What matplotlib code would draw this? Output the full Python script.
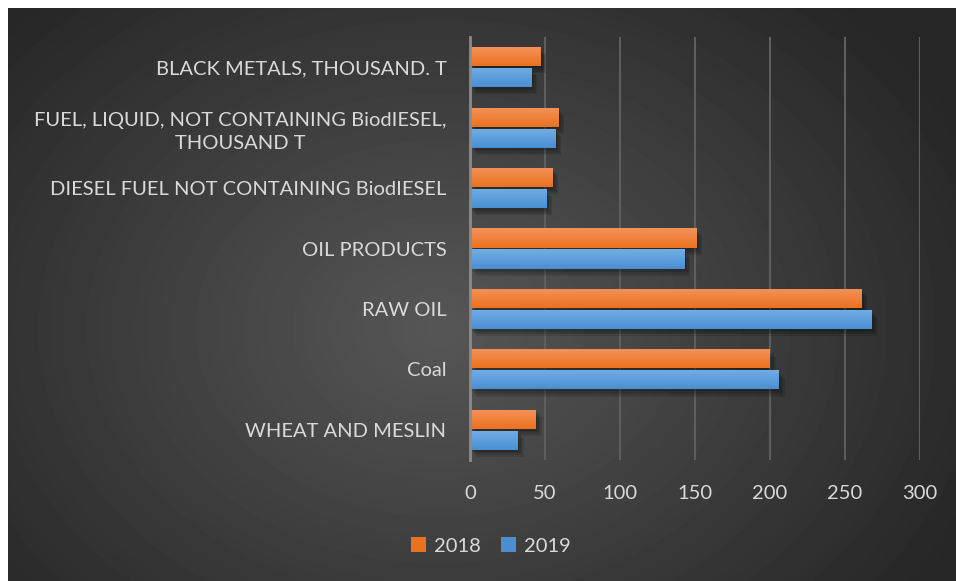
import numpy as np
import matplotlib
matplotlib.use("Agg")
import matplotlib.pyplot as plt
import matplotlib.patheffects as pe
from matplotlib.colors import LinearSegmentedColormap

categories = [
    "WHEAT AND MESLIN",
    "Coal",
    "RAW OIL",
    "OIL PRODUCTS",
    "DIESEL FUEL NOT CONTAINING BiodIESEL",
    "FUEL, LIQUID, NOT CONTAINING BiodIESEL,\nTHOUSAND T",
    "BLACK METALS, THOUSAND. T",
]
values_2018 = [44, 200, 261, 151, 55, 59, 47]
values_2019 = [32, 206, 268, 143, 51, 57, 41]
xticks = [0, 50, 100, 150, 200, 250, 300]

text_color = "#d9d9d9"
orange = ("#f49259", "#eb721f")
blue = ("#72aee3", "#4a8fd4")

plt.rcParams["font.family"] = ["Lato", "DejaVu Sans"]

fig = plt.figure(figsize=(9.56, 5.81), dpi=100)
fig.patch.set_facecolor("white")

# dark radial background
bg = fig.add_axes([8 / 956, 0, 948 / 956, 573 / 581])
bg.set_axis_off()
yy, xx = np.mgrid[0:573, 0:948]
r = np.sqrt(((xx - 430) / 620.0) ** 2 + ((yy - 320) / 480.0) ** 2)
shade = np.clip(0.34 - 0.2 * r, 0.15, 0.34)
bg.imshow(shade, cmap="gray", vmin=0, vmax=1, aspect="auto", interpolation="bilinear")

ax = fig.add_axes([470 / 956, (581 - 460) / 581, 450 / 956, 423 / 581])
ax.set_facecolor("none")

y = np.arange(len(categories))
h = 0.315
off = 0.174

# soft drop shadow built from a few faint offset copies
shadow = [pe.SimplePatchShadow(offset=(o, -1.3 * o), shadow_rgbFace="black", alpha=0.11)
          for o in (1, 2, 3, 4)] + [pe.Normal()]


def gradient_bars(vals, pos, cols, label):
    bars = ax.barh(pos, vals, height=h, color=cols[1], label=label, zorder=3,
                   path_effects=shadow)
    cmap = LinearSegmentedColormap.from_list("g", [cols[1], cols[0]])
    grad = np.linspace(0, 1, 50).reshape(-1, 1)
    for b in bars:
        x0, y0 = b.get_x(), b.get_y()
        im = ax.imshow(grad, cmap=cmap, aspect="auto", origin="lower",
                       extent=[x0, x0 + b.get_width(), y0, y0 + b.get_height()],
                       zorder=4)
        im.set_clip_path(b)
    return bars


gradient_bars(values_2018, y + off, orange, "2018")
gradient_bars(values_2019, y - off, blue, "2019")

ax.set_xlim(0, 300)
ax.set_ylim(-0.5, len(categories) - 0.5)
ax.set_xticks(xticks)
ax.set_yticks(y)
ax.set_yticklabels(categories, ha="right", multialignment="center", linespacing=1.45)
ax.tick_params(axis="both", length=0, colors=text_color, labelsize=14.5)
ax.tick_params(axis="y", pad=17)
ax.tick_params(axis="x", pad=18)
ax.grid(axis="x", color="#5e5e5e", linewidth=1.5, zorder=0)
ax.set_axisbelow(True)
for s in ["top", "right", "bottom"]:
    ax.spines[s].set_visible(False)
ax.spines["left"].set_color("#8c8c8c")
ax.spines["left"].set_linewidth(2)
ax.spines["left"].set_zorder(5)

handles, labels = ax.get_legend_handles_labels()
leg = fig.legend(handles, labels, loc="center", bbox_to_anchor=(491 / 956, 1 - 546 / 581),
                 ncol=2, frameon=False, fontsize=14.5, labelcolor=text_color,
                 handlelength=0.75, handleheight=0.75, handletextpad=0.4, columnspacing=1.0)
for hnd in leg.legend_handles:
    hnd.set_path_effects([])

fig.savefig("out.png", dpi=100)
